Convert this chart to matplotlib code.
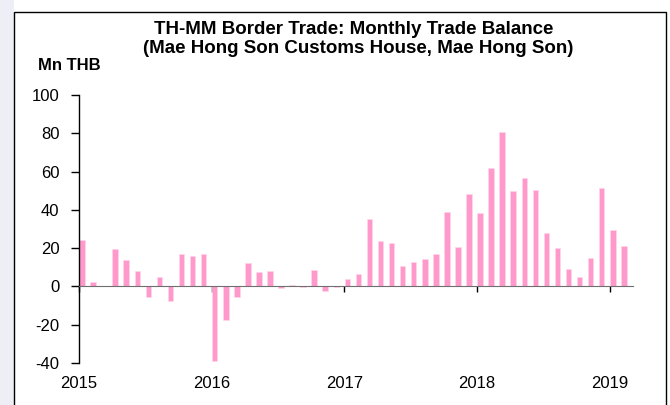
import matplotlib.pyplot as plt
import matplotlib.patches as mpatches
import numpy as np
import pandas as pd

plt.rcParams['font.family'] = ['Liberation Sans', 'DejaVu Sans']
plt.rcParams['axes.unicode_minus'] = False

# monthly trade balance, Mn THB (2015-01 .. 2019-02)
mois = pd.period_range('2015-01', '2019-02', freq='M')
balance = [24.0, 2.3, 0.3, 19.5, 13.6, 8.2, -5.7, 5.0, -7.8, 16.9, 15.7, 16.9,
           -38.8, -17.7, -5.7, 12.0, 7.3, 8.2, -1.0, 0.7, -0.3, 8.7, -2.6, -0.3,
           3.8, 6.6, 35.1, 23.8, 22.6, 10.8, 13.0, 14.1, 16.9, 38.8, 20.5, 48.5,
           38.3, 62.1, 80.5, 49.6, 56.7, 50.3, 28.0, 20.0, 9.2, 4.9, 15.1, 51.3,
           29.7, 21.2]
annees = ['2015', '2016', '2017', '2018', '2019']

fig = plt.figure(figsize=(6.7, 4.05), dpi=100)

# light strip on the left and frame around the chart
fig.patches.append(mpatches.Rectangle((0, 0), 14/670, 1, transform=fig.transFigure,
                                      facecolor='#eeeef6', edgecolor='none', zorder=0))
fig.patches.append(mpatches.Rectangle((14/670, -0.05), (666-14)/670, 1.05 - 12/405,
                                      transform=fig.transFigure, facecolor='none',
                                      edgecolor='black', lw=1.0, zorder=1))

ax = fig.add_axes([79/670, 1 - 363/405, (633-79)/670, (363-95)/405])

x = np.arange(len(mois)) + 0.27
ax.bar(x, balance, width=0.5, color='#ff99cc', edgecolor='#ffd6ea', linewidth=0.5, zorder=2)

ax.set_xlim(0, 50.1)
ax.set_ylim(-40, 100)
ax.set_yticks(np.arange(-40, 101, 20))
ax.tick_params(axis='y', direction='out', length=6, width=1, pad=8, labelsize=12)

# x axis line sits at zero, labels at the bottom
ax.spines['bottom'].set_position(('data', 0))
ax.spines['bottom'].set_color('#6f6f6f')
ax.spines['top'].set_visible(False)
ax.spines['right'].set_visible(False)
ax.spines['left'].set_linewidth(1)
ticks_x = [12 * i for i in range(len(annees))]
ax.set_xticks(ticks_x)
ax.set_xticklabels([])
ax.tick_params(axis='x', direction='out', length=4, width=1, color='black')

sec = ax.secondary_xaxis(0.0)
sec.set_xticks(ticks_x)
sec.set_xticklabels(annees)
sec.tick_params(length=0, pad=9, labelsize=12)
sec.spines['bottom'].set_visible(False)

fig.text(354/670, 1 - 30/405, 'TH-MM Border Trade: Monthly Trade Balance',
         ha='center', va='center', fontsize=13.5, fontweight='bold')
fig.text(358/670, 1 - 48.5/405, '(Mae Hong Son Customs House, Mae Hong Son)',
         ha='center', va='center', fontsize=13.5, fontweight='bold')
fig.text(38/670, 1 - 66/405, 'Mn THB', ha='left', va='center',
         fontsize=12, fontweight='bold')

fig.savefig('out.png', dpi=100)
